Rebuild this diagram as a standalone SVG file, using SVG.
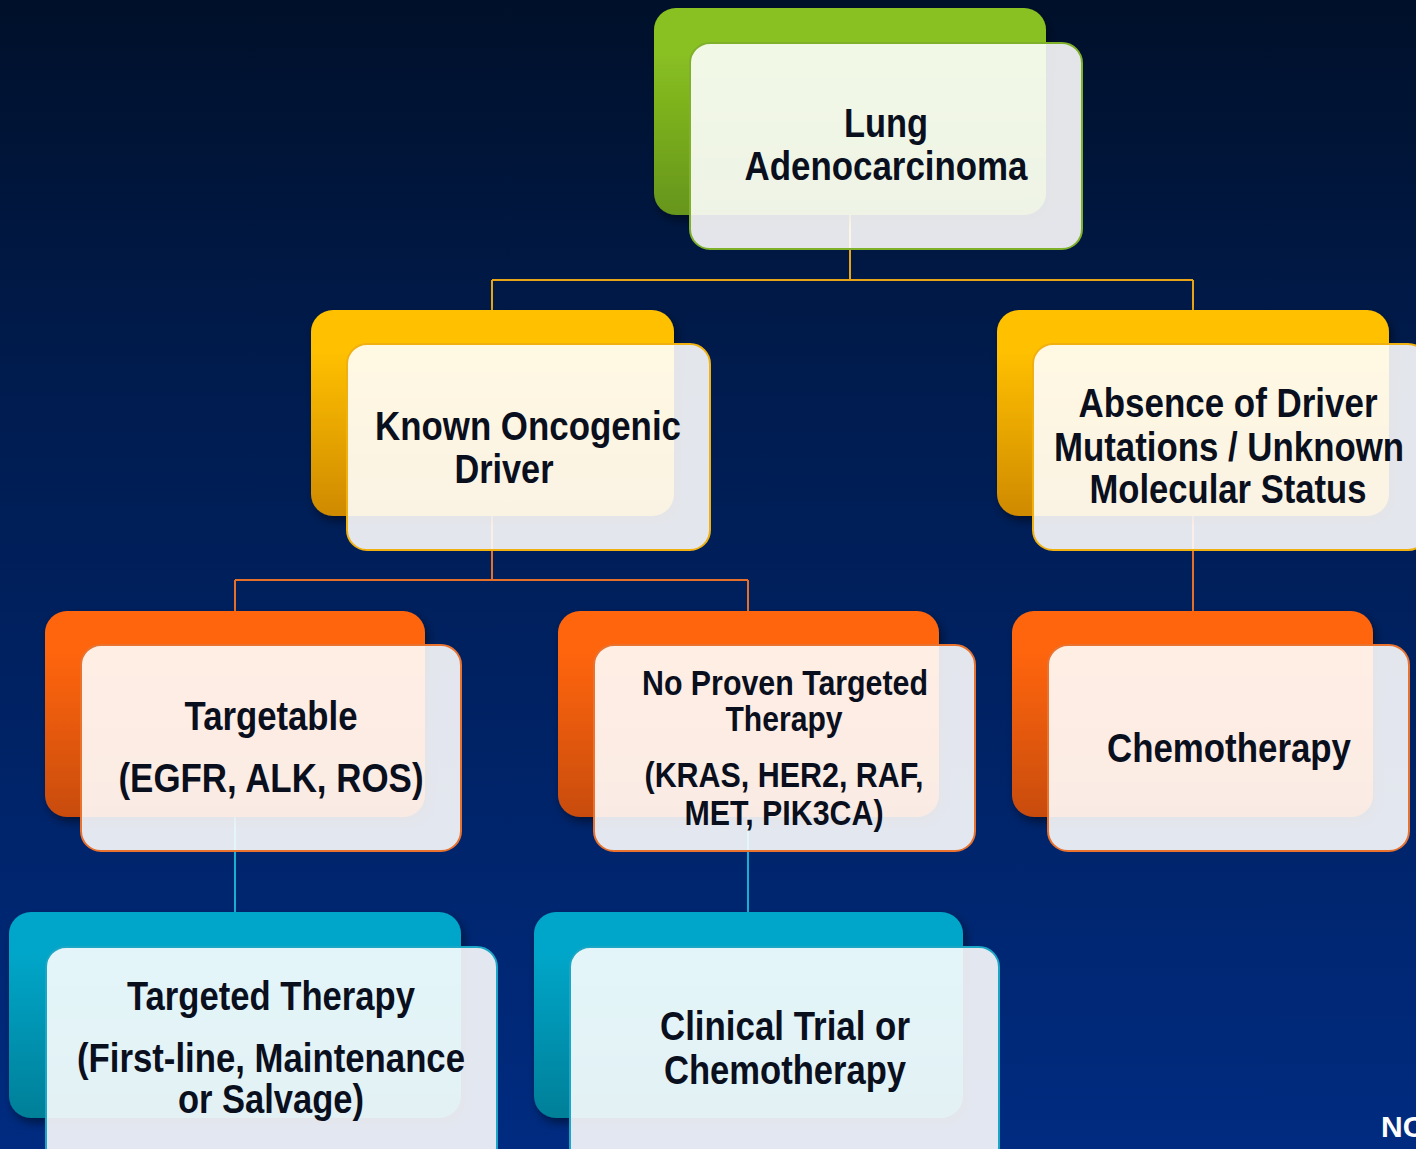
<svg xmlns="http://www.w3.org/2000/svg" width="1416" height="1149" viewBox="0 0 1416 1149">
<defs>
<linearGradient id="bg" x1="0" y1="0" x2="0" y2="1">
<stop offset="0" stop-color="#00102a"/>
<stop offset="0.35" stop-color="#001c50"/>
<stop offset="1" stop-color="#002b80"/>
</linearGradient>
<linearGradient id="gGreen" x1="0" y1="0" x2="0" y2="1"><stop offset="0.2" stop-color="#8ac121"/><stop offset="1" stop-color="#66951a"/></linearGradient>
<linearGradient id="gGold" x1="0" y1="0" x2="0" y2="1"><stop offset="0.2" stop-color="#ffc000"/><stop offset="1" stop-color="#cf8a00"/></linearGradient>
<linearGradient id="gOrange" x1="0" y1="0" x2="0" y2="1"><stop offset="0.2" stop-color="#ff6510"/><stop offset="1" stop-color="#c84c0c"/></linearGradient>
<linearGradient id="gTeal" x1="0" y1="0" x2="0" y2="1"><stop offset="0.2" stop-color="#00a6c9"/><stop offset="1" stop-color="#007f98"/></linearGradient>
<filter id="sh" x="-10%" y="-10%" width="125%" height="130%">
<feDropShadow dx="3" dy="5" stdDeviation="5" flood-color="#000" flood-opacity="0.45"/>
</filter>
</defs>
<style>
.front{fill:#ffffff;fill-opacity:0.89;stroke-width:2}
.t{font-family:"Liberation Sans Narrow","Liberation Sans",Arial,sans-serif;font-weight:bold;fill:#0a0f1e;text-anchor:middle}
.c{fill:none;stroke-width:2}
</style>
<rect x="0" y="0" width="1416" height="1149" fill="url(#bg)"/>
<g id="connectors">
<path class="c" stroke="#e8a317" d="M850 215V280M492 280H1193M492 280V310M1193 280V310"/>
<path class="c" stroke="#e4702a" d="M492 516V580M235 580H748M235 580V611M748 580V611M1193 516V611"/>
<path class="c" stroke="#1aaed0" d="M235 817V912M748 817V912"/>
</g>
<g id="lung">
<rect x="654" y="8" width="392" height="207" rx="22" fill="url(#gGreen)" filter="url(#sh)"/>
<rect class="front" x="690" y="43" width="392" height="206" rx="20" stroke="#7fb02a"/>
<text class="t" font-size="40"><tspan x="886" y="137" textLength="84" lengthAdjust="spacingAndGlyphs">Lung</tspan><tspan x="886" y="180" textLength="283" lengthAdjust="spacingAndGlyphs">Adenocarcinoma</tspan></text>
</g>
<g id="known">
<rect x="311" y="310" width="363" height="206" rx="22" fill="url(#gGold)" filter="url(#sh)"/>
<rect class="front" x="347" y="344" width="363" height="206" rx="20" stroke="#f0b010"/>
<text class="t" font-size="40"><tspan x="528" y="440" textLength="306" lengthAdjust="spacingAndGlyphs">Known Oncogenic</tspan><tspan x="504" y="483" textLength="99" lengthAdjust="spacingAndGlyphs">Driver</tspan></text>
</g>
<g id="absence">
<rect x="997" y="310" width="392" height="206" rx="22" fill="url(#gGold)" filter="url(#sh)"/>
<rect class="front" x="1033" y="344" width="395" height="206" rx="20" stroke="#f0b010"/>
<text class="t" font-size="40"><tspan x="1228" y="417" textLength="299" lengthAdjust="spacingAndGlyphs">Absence of Driver</tspan><tspan x="1229" y="461" textLength="350" lengthAdjust="spacingAndGlyphs">Mutations / Unknown</tspan><tspan x="1228" y="503" textLength="277" lengthAdjust="spacingAndGlyphs">Molecular Status</tspan></text>
</g>
<g id="targetable">
<rect x="45" y="611" width="380" height="206" rx="22" fill="url(#gOrange)" filter="url(#sh)"/>
<rect class="front" x="81" y="645" width="380" height="206" rx="20" stroke="#e8722e"/>
<text class="t" font-size="40"><tspan x="271" y="730" textLength="173" lengthAdjust="spacingAndGlyphs">Targetable</tspan><tspan x="271" y="792" textLength="305" lengthAdjust="spacingAndGlyphs">(EGFR, ALK, ROS)</tspan></text>
</g>
<g id="noproven">
<rect x="558" y="611" width="381" height="206" rx="22" fill="url(#gOrange)" filter="url(#sh)"/>
<rect class="front" x="594" y="645" width="381" height="206" rx="20" stroke="#e8722e"/>
<text class="t" font-size="35"><tspan x="785" y="695" textLength="286" lengthAdjust="spacingAndGlyphs">No Proven Targeted</tspan><tspan x="784" y="731" textLength="117" lengthAdjust="spacingAndGlyphs">Therapy</tspan><tspan x="784" y="787" textLength="279" lengthAdjust="spacingAndGlyphs">(KRAS, HER2, RAF,</tspan><tspan x="784" y="825" textLength="199" lengthAdjust="spacingAndGlyphs">MET, PIK3CA)</tspan></text>
</g>
<g id="chemo">
<rect x="1012" y="611" width="361" height="206" rx="22" fill="url(#gOrange)" filter="url(#sh)"/>
<rect class="front" x="1048" y="645" width="361" height="206" rx="20" stroke="#e8722e"/>
<text class="t" font-size="40"><tspan x="1229" y="762" textLength="244" lengthAdjust="spacingAndGlyphs">Chemotherapy</tspan></text>
</g>
<g id="targeted">
<rect x="9" y="912" width="452" height="206" rx="22" fill="url(#gTeal)" filter="url(#sh)"/>
<rect class="front" x="46" y="947" width="451" height="220" rx="20" stroke="#1aa6c4"/>
<text class="t" font-size="40"><tspan x="271" y="1010" textLength="288" lengthAdjust="spacingAndGlyphs">Targeted Therapy</tspan><tspan x="271" y="1072" textLength="388" lengthAdjust="spacingAndGlyphs">(First-line, Maintenance</tspan><tspan x="271" y="1113" textLength="186" lengthAdjust="spacingAndGlyphs">or Salvage)</tspan></text>
</g>
<g id="clinical">
<rect x="534" y="912" width="429" height="206" rx="22" fill="url(#gTeal)" filter="url(#sh)"/>
<rect class="front" x="570" y="947" width="429" height="220" rx="20" stroke="#1aa6c4"/>
<text class="t" font-size="40"><tspan x="785" y="1040" textLength="250" lengthAdjust="spacingAndGlyphs">Clinical Trial or</tspan><tspan x="785" y="1084" textLength="242" lengthAdjust="spacingAndGlyphs">Chemotherapy</tspan></text>
</g>
<text x="1381" y="1137" font-family="'Liberation Sans Narrow','Liberation Sans',Arial,sans-serif" font-weight="bold" font-size="30" fill="#ffffff">NC</text>
</svg>
